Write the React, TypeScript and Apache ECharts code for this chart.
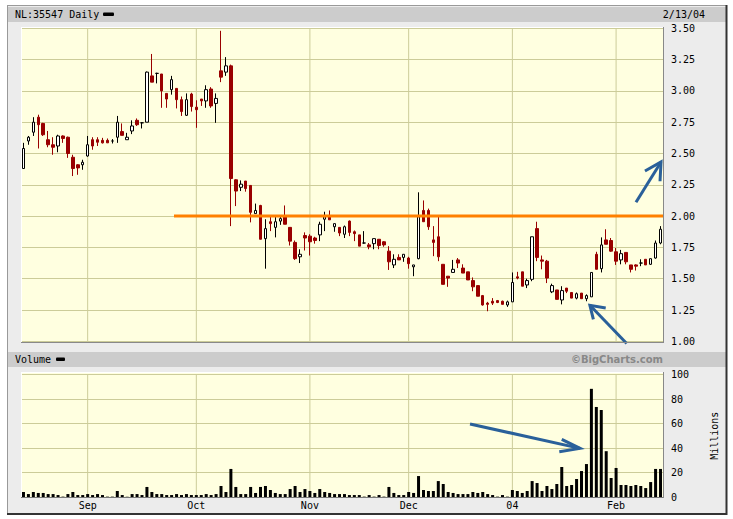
import React, { useEffect, useRef } from 'react';
import * as echarts from 'echarts';

// ---------- categories (trading days, Euronext Amsterdam) ----------
const holidays = ['2003-12-25', '2003-12-26', '2004-01-01'];
function tradingDays(start: string, end: string): string[] {
  const out: string[] = [];
  const d = new Date(start + 'T00:00:00Z');
  const e = new Date(end + 'T00:00:00Z');
  while (d <= e) {
    const wd = d.getUTCDay();
    const s = d.toISOString().slice(0, 10);
    if (wd !== 0 && wd !== 6 && holidays.indexOf(s) < 0) out.push(s);
    d.setUTCDate(d.getUTCDate() + 1);
  }
  return out;
}
const dates = tradingDays('2003-08-13', '2004-02-13');

const monthLabels: Record<string, string> = { '09': 'Sep', '10': 'Oct', '11': 'Nov', '12': 'Dec', '01': '04', '02': 'Feb' };

// ---------- price series (open, close, low, high) ----------
const opens = [
  2.38, 2.60, 2.67, 2.79, 2.74, 2.61, 2.57, 2.56, 2.64, 2.63,
  2.47, 2.41, 2.41, 2.48, 2.61, 2.61, 2.605, 2.605, 2.60, 2.63,
  2.675, 2.61, 2.68, 2.765, 2.745, 2.75, 3.12, 3.14, 3.135, 2.98,
  3.01, 3.02, 2.93, 2.805, 2.975, 2.87, 2.935, 2.92, 3.015, 2.90,
  3.16, 3.15, 3.20, 2.29, 2.23, 2.28, 2.245, 2.02, 2.085, 1.82,
  1.955, 1.91, 1.96, 2.00, 1.91, 1.79, 1.675, 1.845, 1.84, 1.825,
  1.85, 1.975, 1.995, 1.915, 1.91, 1.855, 1.96, 1.875, 1.85, 1.785,
  1.77, 1.78, 1.815, 1.795, 1.72, 1.61, 1.67, 1.67, 1.665, 1.595,
  1.66, 2.045, 2.045, 1.81, 1.835, 1.615, 1.52, 1.55, 1.65, 1.585,
  1.555, 1.485, 1.445, 1.365, 1.305, 1.32, 1.325, 1.32, 1.29, 1.315,
  1.515, 1.555, 1.45, 1.495, 1.90, 1.65, 1.64, 1.395, 1.41, 1.33,
  1.425, 1.39, 1.345, 1.385, 1.34, 1.355, 1.695, 1.58, 1.81, 1.805,
  1.715, 1.65, 1.71, 1.61, 1.61, 1.625, 1.655, 1.615, 1.665, 1.785,
];
const closes = [
  2.54, 2.63, 2.75, 2.73, 2.65, 2.57, 2.55, 2.64, 2.62, 2.50,
  2.38, 2.385, 2.43, 2.57, 2.56, 2.59, 2.585, 2.585, 2.60, 2.75,
  2.645, 2.63, 2.72, 2.73, 2.745, 3.15, 3.07, 3.14, 3.00, 2.935,
  3.09, 2.93, 2.835, 2.93, 2.875, 2.85, 2.92, 3.01, 2.88, 2.94,
  3.11, 3.20, 2.30, 2.20, 2.255, 2.22, 2.03, 2.045, 1.815, 1.90,
  1.94, 1.955, 1.98, 1.935, 1.80, 1.66, 1.695, 1.825, 1.795, 1.805,
  1.935, 1.995, 1.97, 1.94, 1.865, 1.915, 1.87, 1.86, 1.76, 1.785,
  1.755, 1.82, 1.765, 1.77, 1.635, 1.655, 1.65, 1.695, 1.62, 1.61,
  1.995, 1.955, 1.915, 1.79, 1.675, 1.455, 1.505, 1.575, 1.625, 1.545,
  1.49, 1.435, 1.36, 1.29, 1.295, 1.305, 1.31, 1.295, 1.315, 1.47,
  1.505, 1.44, 1.485, 1.835, 1.67, 1.64, 1.505, 1.445, 1.335, 1.405,
  1.40, 1.345, 1.38, 1.34, 1.365, 1.55, 1.575, 1.77, 1.775, 1.72,
  1.64, 1.70, 1.635, 1.575, 1.60, 1.625, 1.61, 1.66, 1.785, 1.895,
];
const lows = [
  2.38, 2.57, 2.64, 2.54, 2.64, 2.55, 2.49, 2.51, 2.585, 2.465,
  2.32, 2.33, 2.37, 2.475, 2.53, 2.56, 2.58, 2.585, 2.58, 2.585,
  2.645, 2.61, 2.655, 2.72, 2.70, 2.75, 3.07, 3.06, 2.865, 2.865,
  2.97, 2.86, 2.80, 2.80, 2.835, 2.705, 2.88, 2.865, 2.865, 2.745,
  3.07, 3.12, 1.92, 2.08, 2.20, 2.195, 1.95, 2.02, 1.815, 1.58,
  1.88, 1.83, 1.93, 1.935, 1.765, 1.65, 1.625, 1.725, 1.685, 1.78,
  1.80, 1.88, 1.97, 1.875, 1.84, 1.825, 1.84, 1.80, 1.76, 1.78,
  1.735, 1.735, 1.735, 1.755, 1.57, 1.585, 1.65, 1.635, 1.58, 1.52,
  1.655, 1.955, 1.89, 1.68, 1.64, 1.455, 1.435, 1.55, 1.585, 1.545,
  1.49, 1.40, 1.36, 1.285, 1.24, 1.29, 1.305, 1.295, 1.275, 1.315,
  1.495, 1.44, 1.425, 1.48, 1.64, 1.575, 1.465, 1.385, 1.335, 1.295,
  1.385, 1.345, 1.335, 1.34, 1.32, 1.355, 1.575, 1.55, 1.775, 1.715,
  1.61, 1.615, 1.615, 1.55, 1.565, 1.60, 1.61, 1.61, 1.66, 1.775,
];
const highs = [
  2.585, 2.64, 2.79, 2.81, 2.745, 2.68, 2.63, 2.65, 2.645, 2.635,
  2.49, 2.415, 2.45, 2.64, 2.63, 2.63, 2.625, 2.62, 2.615, 2.80,
  2.74, 2.665, 2.765, 2.78, 2.75, 3.155, 3.295, 3.145, 3.135, 2.98,
  3.12, 3.02, 2.955, 2.98, 2.985, 2.925, 2.935, 3.045, 3.03, 2.98,
  3.48, 3.27, 3.21, 2.295, 2.285, 2.28, 2.245, 2.10, 2.09, 1.975,
  1.995, 1.995, 1.995, 2.085, 1.91, 1.805, 1.735, 1.87, 1.855, 1.835,
  1.955, 2.035, 2.045, 1.94, 1.91, 1.925, 1.965, 1.885, 1.85, 1.88,
  1.785, 1.82, 1.815, 1.80, 1.76, 1.695, 1.695, 1.695, 1.675, 1.61,
  2.19, 2.125, 2.06, 1.92, 2.00, 1.615, 1.52, 1.65, 1.665, 1.615,
  1.555, 1.51, 1.445, 1.37, 1.315, 1.345, 1.33, 1.325, 1.325, 1.55,
  1.555, 1.555, 1.50, 1.835, 1.955, 1.685, 1.65, 1.46, 1.41, 1.44,
  1.425, 1.39, 1.39, 1.385, 1.375, 1.55, 1.715, 1.83, 1.895, 1.825,
  1.745, 1.73, 1.71, 1.61, 1.615, 1.655, 1.655, 1.66, 1.805, 1.92,
];

// ---------- volume (millions) ----------
const volumes = [
  4.1, 2.4, 4.1, 3.3, 3.3, 2.4, 2.4, 1.6, 0.3, 2.4,
  4.1, 1.6, 1.6, 2.4, 1.6, 2.4, 1.6, 0.3, 0.3, 4.9,
  1.6, 0.3, 2.4, 2.4, 1.6, 8.2, 4.1, 2.4, 2.4, 1.6,
  1.6, 2.4, 1.6, 2.4, 1.6, 1.6, 1.6, 2.4, 1.6, 2.4,
  9.0, 4.1, 22.9, 8.2, 2.4, 2.4, 8.2, 3.3, 8.2, 9.0,
  5.7, 3.3, 2.4, 2.4, 6.5, 9.0, 4.1, 6.5, 4.9, 3.3,
  6.5, 4.1, 3.3, 2.4, 2.4, 2.4, 1.6, 1.6, 1.6, 0.3,
  1.6, 0.3, 1.6, 0.3, 8.2, 3.3, 1.6, 1.6, 4.1, 3.3,
  17.1, 5.7, 4.9, 4.9, 13.0, 10.6, 4.1, 3.3, 2.4, 2.4,
  2.4, 4.1, 3.3, 4.1, 2.4, 1.6, 0.3, 1.6, 0.3, 5.7,
  4.9, 3.3, 4.9, 13.0, 11.4, 4.9, 9.0, 6.5, 10.6, 24.5,
  9.0, 9.8, 14.7, 21.2, 26.9, 88.3, 73.5, 71.0, 37.4, 15.5,
  23.7, 9.8, 9.8, 9.0, 9.8, 9.0, 7.3, 12.2, 22.9, 22.9,
];

// ---------- axis ticks ----------
const priceMin = 1.0;
const priceMax = 3.5;
const priceStep = 0.25;
const volMin = 0;
const volMax = 100;
const volStep = 20;

// ---------- annotations (data coordinates: [day index, value]) ----------
const resistanceLevel = 2.0;
const resistanceStartIndex = 30.48;
const arrowUpShaft = [[124.03, 2.11], [129.1, 2.432]];
const arrowUpHead = [[125.85, 2.36], [129.1, 2.432], [128.9, 2.278]];
const arrowPriceShaft = [[122.15, 0.982], [114.7, 1.2875]];
const arrowPriceHead = [[117.9, 1.266], [114.7, 1.2875], [115.4, 1.176]];
const arrowVolShaft = [[90.42, 59.6], [112.7, 39.7]];
const arrowVolHead = [[109.0, 47.1], [112.7, 39.7], [108.5, 37.0]];

const monthStarts: number[] = [];
dates.forEach((d, i) => {
  if (i > 0 && d.slice(5, 7) !== dates[i - 1].slice(5, 7)) monthStarts.push(i);
});

const MONO = '"DejaVu Sans Mono", monospace';
const GRID = '#cccc99';
const YELLOW = '#ffffe0';
const BLUE = '#2a609a';

function lineSeries(points: number[][], xi: number, yi: number, color: string, width: number, z: number, clip = true) {
  return {
    type: 'line',
    xAxisIndex: xi,
    yAxisIndex: yi,
    data: points,
    symbol: 'none',
    silent: true,
    clip,
    z,
    lineStyle: { color, width, cap: 'butt', join: 'miter' },
  };
}

export default function App() {
  const ref = useRef<HTMLDivElement>(null);
  useEffect(() => {
    if (!ref.current) return;
    const chart = echarts.init(ref.current, undefined, { renderer: 'svg' });
    const n = dates.length;
    const candleData = dates.map((_, i) => [opens[i], closes[i], lows[i], highs[i]]);

    const series: any[] = [];
    monthStarts.forEach((m) => {
      series.push(lineSeries([[m, priceMin], [m, priceMax]], 1, 0, GRID, 1, 1));
      series.push(lineSeries([[m, volMin], [m, volMax]], 3, 1, GRID, 1, 1));
    });
    series.push({
      type: 'candlestick',
      xAxisIndex: 0,
      yAxisIndex: 0,
      data: candleData,
      barWidth: 3,
      z: 3,
      itemStyle: {
        color: '#ffffff',
        color0: '#990000',
        borderColor: '#000000',
        borderColor0: '#990000',
        borderColorDoji: '#000000',
        borderWidth: 1,
      },
    });
    series.push({
      type: 'bar',
      xAxisIndex: 2,
      yAxisIndex: 1,
      data: volumes,
      barWidth: 3,
      z: 3,
      itemStyle: { color: '#000000' },
    });
    series.push(lineSeries([[resistanceStartIndex, resistanceLevel], [n - 0.5, resistanceLevel]], 1, 0, '#ff8000', 3, 5));
    series.push(lineSeries(arrowUpShaft, 1, 0, BLUE, 3, 6, false));
    series.push(lineSeries(arrowUpHead, 1, 0, BLUE, 3, 6, false));
    series.push(lineSeries(arrowPriceShaft, 1, 0, BLUE, 3, 6, false));
    series.push(lineSeries(arrowPriceHead, 1, 0, BLUE, 3, 6, false));
    series.push(lineSeries(arrowVolShaft, 3, 1, BLUE, 3, 6, false));
    series.push(lineSeries(arrowVolHead, 3, 1, BLUE, 3, 6, false));

    const txt = (text: string, x: number, y: number, align: string, font: string, fill = '#000') => ({
      type: 'text',
      z: 50,
      silent: true,
      style: { text, x, y, font, fill, align, verticalAlign: 'middle', textAlign: align, textVerticalAlign: 'middle' },
    });
    const ln = (x1: number, y1: number, x2: number, y2: number, stroke: string, lineWidth = 1, z = 50) => ({
      type: 'line',
      z,
      silent: true,
      shape: { x1, y1, x2, y2 },
      style: { stroke, lineWidth },
    });
    const rect = (x: number, y: number, width: number, height: number, fill: string, z = -10, r = 0) => ({
      type: 'rect',
      z,
      silent: true,
      shape: { x, y, width, height, r },
      style: { fill },
    });

    const graphic = [
      rect(7, 5, 720, 509, '#ececec', -20),
      rect(8, 7, 718, 15, '#cccccc', -15),
      rect(8, 352, 718, 15, '#cccccc', -15),
      rect(21, 27, 642, 315, YELLOW, -12),
      rect(21, 372, 642, 125, YELLOW, -12),
      ln(7.5, 5, 7.5, 514, '#999999'),
      ln(7, 5.5, 727, 5.5, '#999999'),
      ln(726.5, 5, 726.5, 515, '#333333', 2),
      ln(7, 514, 727, 514, '#333333', 2),
      ln(21, 27.5, 663, 27.5, '#ffffff'),
      ln(21.5, 27, 21.5, 342, '#ffffff'),
      ln(21, 342.5, 664, 342.5, '#888888'),
      ln(663.5, 27, 663.5, 343, '#888888'),
      ln(21, 372.5, 663, 372.5, '#ffffff'),
      ln(21.5, 372, 21.5, 497, '#ffffff'),
      ln(21, 497.5, 664, 497.5, '#777777'),
      ln(663.5, 372, 663.5, 498, '#888888'),
      txt('NL:35547 Daily', 15, 14.5, 'left', `10px ${MONO}`),
      rect(103, 12.5, 11, 3.5, '#000000', 50, 1),
      txt('2/13/04', 705, 14.5, 'right', `10px ${MONO}`),
      txt('Volume', 15, 359.5, 'left', `10px ${MONO}`),
      rect(56, 357.5, 9, 3.5, '#000000', 50, 1),
      txt('©BigCharts.com', 663, 359.5, 'right', 'bold 10px "DejaVu Sans", Verdana, sans-serif', '#888888'),
    ];

    const axisFont = { fontFamily: MONO, fontSize: 10, color: '#000000' };

    chart.setOption({
      animation: false,
      graphic,
      grid: [
        { left: 21, top: 28.3, width: 642, height: 313, show: false },
        { left: 21, top: 374.5, width: 642, height: 122.5, show: false },
      ],
      xAxis: [
        {
          type: 'category', gridIndex: 0, data: dates, boundaryGap: true,
          axisLine: { show: false }, axisTick: { show: false }, axisLabel: { show: false }, splitLine: { show: false },
        },
        { type: 'value', gridIndex: 0, min: -0.5, max: n - 0.5, show: false },
        {
          type: 'category', gridIndex: 1, data: dates, boundaryGap: true,
          axisLine: { show: false }, axisTick: { show: false }, splitLine: { show: false },
          axisLabel: {
            ...axisFont,
            margin: 3,
            hideOverlap: false,
            interval: (i: number) => monthStarts.indexOf(i) >= 0,
            formatter: (v: string) => monthLabels[v.slice(5, 7)] || '',
          },
        },
        { type: 'value', gridIndex: 1, min: -0.5, max: n - 0.5, show: false },
      ],
      yAxis: [
        {
          type: 'value', gridIndex: 0, position: 'right', min: priceMin, max: priceMax, interval: priceStep,
          axisLine: { show: false }, axisTick: { show: false },
          axisLabel: { ...axisFont, margin: 8, showMinLabel: true, showMaxLabel: true, formatter: (v: number) => v.toFixed(2) },
          splitLine: { show: true, lineStyle: { color: GRID, width: 1 } },
        },
        {
          type: 'value', gridIndex: 1, position: 'right', min: volMin, max: volMax, interval: volStep,
          name: 'Millions', nameLocation: 'middle', nameRotate: 90, nameGap: 46,
          nameTextStyle: { ...axisFont },
          axisLine: { show: false }, axisTick: { show: false },
          axisLabel: { ...axisFont, margin: 8, showMinLabel: true, showMaxLabel: true },
          splitLine: { show: true, lineStyle: { color: GRID, width: 1 } },
        },
      ],
      series,
    });
    return () => chart.dispose();
  }, []);
  return (
    <div
      ref={ref}
      style={{ position: 'fixed', left: 0, top: 0, width: 733, height: 519, background: '#ffffff' }}
    />
  );
}
